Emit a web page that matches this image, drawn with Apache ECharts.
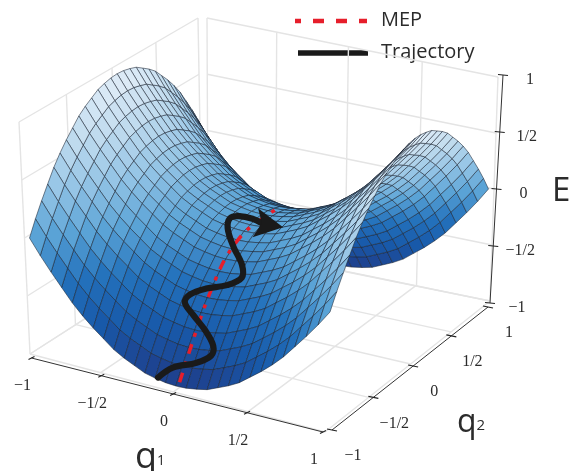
<!DOCTYPE html>
<html><head><meta charset="utf-8">
<style>html,body{margin:0;padding:0;background:#fff}#c{width:570px;height:471px}</style>
<script src="https://cdn.jsdelivr.net/npm/echarts@6/dist/echarts.min.js"></script></head>
<body><div id="c"></div>
<script>
// Mesh coordinates and surface height
const Q_GRID = [-1,-0.929,-0.857,-0.786,-0.714,-0.643,-0.571,-0.5,-0.429,-0.357,-0.286,-0.214,-0.143,-0.071,0,0.071,0.143,0.214,0.286,0.357,0.429,0.5,0.571,0.643,0.714,0.786,0.857,0.929,1];
const E_BY_Q1 = [0.95,0.82,0.70,0.59,0.48,0.39,0.31,0.24,0.17,0.12,0.08,0.04,0.02,0.005,0,0.005,0.02,0.04,0.08,0.12,0.17,0.24,0.31,0.39,0.48,0.59,0.70,0.82,0.95];
const E_BY_Q2 = [-0.95,-0.82,-0.70,-0.59,-0.48,-0.39,-0.31,-0.24,-0.17,-0.12,-0.08,-0.04,-0.02,-0.005,0,-0.005,-0.02,-0.04,-0.08,-0.12,-0.17,-0.24,-0.31,-0.39,-0.48,-0.59,-0.70,-0.82,-0.95];
// Paths on the surface
const MEP_Q1 = [0.03,0.03,0.02,0,0,0.01,0.02];
const MEP_Q2 = [-0.98,-0.84,-0.68,-0.47,-0.36,-0.19,0.15];
const MEP_E  = [-0.92,-0.66,-0.43,-0.22,-0.13,-0.04,-0.02];
const TRAJ_Q1 = [-0.11,-0.04,0.10,0.18,0.17,0.08,-0.03,-0.11,-0.10,-0.02,0.10,0.17,0.13,0.01,-0.10,-0.13,-0.10,-0.02,0.06,0.23];
const TRAJ_Q2 = [-0.99,-0.94,-0.91,-0.88,-0.84,-0.78,-0.73,-0.69,-0.65,-0.60,-0.57,-0.52,-0.45,-0.34,-0.22,-0.14,-0.09,-0.07,-0.10,-0.15];
const TRAJ_E  = [-0.92,-0.84,-0.77,-0.70,-0.64,-0.57,-0.50,-0.44,-0.39,-0.34,-0.29,-0.23,-0.17,-0.11,-0.04,0,0,-0.01,-0.01,0.03];
// Axes
const TICKS = [-1,-0.5,0,0.5,1];
const TICK_LABELS = ['\u22121','\u22121/2','0','1/2','1'];

// Box corners on the page for (q1,q2,E) signs
const CORNERS = {'---':[30,354],'+--':[325,432],'++-':[490,301],'-+-':[204,243],'--+':[19,122],'+-+':[335,192],'+++':[493,77],'-++':[203,18]};
const w1 = t => t - 0.056*t*(1-t), w2 = t => t + 0.076*t*(1-t);
function project(a,b,e){
  const u=w1((a+1)/2), v=w2((b+1)/2), w=(e+1)/2, o=[0,0];
  for(const s1 of '-+')for(const s2 of '-+')for(const s3 of '-+'){
    const k=(s1=='+'?u:1-u)*(s2=='+'?v:1-v)*(s3=='+'?w:1-w), c=CORNERS[s1+s2+s3];
    o[0]+=k*c[0]; o[1]+=k*c[1];
  }
  return o;
}
function surfacePoint(a,b,e){
  const p=project(a,b,e);
  p[0]+=5*((1-a)/2)*((1-b)/2)-3*((1+a)/2)*((1+b)/2);
  return p;
}
const STOPS=[[-1,[32,56,132]],[-0.6,[24,90,170]],[-0.3,[36,114,188]],[0,[90,163,214]],[0.3,[146,195,229]],[0.6,[190,218,238]],[1,[232,241,250]]];
function color(e){
  for(let i=1;i<STOPS.length;i++) if(e<=STOPS[i][0]){
    const a=STOPS[i-1],b=STOPS[i],t=Math.max(0,(e-a[0])/(b[0]-a[0]));
    return 'rgb('+a[1].map((c,k)=>Math.round(c+(b[1][k]-c)*t)).join(',')+')';
  }
  return 'rgb(232,241,250)';
}
// Surface cells, far to near
const cells=[];
for(let i=0;i<Q_GRID.length-1;i++)for(let j=0;j<Q_GRID.length-1;j++){
  const e=(E_BY_Q1[i]+E_BY_Q1[i+1])/2+(E_BY_Q2[j]+E_BY_Q2[j+1])/2;
  cells.push([i,j,e,0.45*Q_GRID[i]-0.78*Q_GRID[j]+0.32*e]);
}
cells.sort((p,r)=>p[3]-r[3]);
// Wall and floor lines
const wall=[];
function shifted(kind,a,b,e){
  const p=project(a,b,e),u=(a+1)/2,v=(b+1)/2,w=(e+1)/2;
  if(kind=='left') p[0]-=5*v*(0.4+0.6*w);
  if(kind=='back') p[0]+=4*(1-u)+5*u*w;
  return p;
}
for(const t of TICKS){
  wall.push(['floor',[t,-1,-1],[t,1,-1]],['floor',[-1,t,-1],[1,t,-1]]);
  wall.push(['left',[-1,t,-1],[-1,t,1]],['left',[-1,-1,t],[-1,1,t]]);
  wall.push(['back',[t,1,-1],[t,1,1]],['back',[-1,1,t],[1,1,t]]);
}
const q1Axis=(a)=>{const p=project(a,-1,-1),u=(a+1)/2;return [p[0]+1.5*(1-u)-2*u,p[1]+4*(1-u)];};
const q2Axis=(b)=>{const p=project(1,b,-1),v=(b+1)/2;return [p[0]+7*(1-v)-2*v,p[1]-2*(1-v)+6*v];};
const eAxis=(e)=>{const p=project(1,1,e),w=(e+1)/2;return [p[0]+10*w,p[1]+2*(1-w)-2*w];};
const AXES=[
 {f:q1Axis,tick:[3,-1.5],lab:[-9,28]},
 {f:q2Axis,tick:[5,1],lab:[21,26]},
 {f:eAxis,tick:[5,0.5],lab:[27,5]}];
const axisCurves=AXES.map(A=>[A.f(-1),A.f(1)]);
const tickItems=[];AXES.forEach((A,k)=>TICKS.forEach((t,n)=>tickItems.push([k,n])));
const seq=a=>a.map((_,i)=>i);
const base={type:'custom',coordinateSystem:'cartesian2d',clip:false,silent:true};
const chart=echarts.init(document.getElementById('c'),null,{renderer:'canvas'});
const TEXT='#2b2b2b';
chart.setOption({animation:false,
 grid:{left:0,right:0,top:0,bottom:0},
 xAxis:{type:'value',min:0,max:570,show:false},
 yAxis:{type:'value',min:0,max:471,inverse:true,show:false},
 graphic:[
  {type:'line',shape:{x1:295,y1:21,x2:367,y2:21},style:{stroke:'#e61e2b',lineWidth:4.5,lineDash:[11,12],lineDashOffset:5}},
  {type:'line',shape:{x1:298,y1:53,x2:368,y2:53},style:{stroke:'#1a1a1a',lineWidth:5.5}},
  {type:'text',x:381,y:20,style:{text:'MEP',font:'20px "Open Sans"',fill:TEXT,verticalAlign:'middle'}},
  {type:'text',x:381,y:52,style:{text:'Trajectory',font:'20px "Open Sans"',fill:TEXT,verticalAlign:'middle'}},
  {type:'text',x:552,y:192,style:{text:'E',font:'33px "Open Sans"',fill:TEXT,verticalAlign:'middle'}},
  {type:'text',x:135,y:458,style:{text:'{a|q}{b|1}',verticalAlign:'middle',rich:{a:{font:'36px "Open Sans"',fill:TEXT},b:{font:'14px "Open Sans"',fill:TEXT,verticalAlign:'middle',padding:[6,0,0,0]}}}},
  {type:'text',x:457,y:423,style:{text:'{a|q}{b|2}',verticalAlign:'middle',rich:{a:{font:'32px "Open Sans"',fill:TEXT},b:{font:'15px "Open Sans"',fill:TEXT,verticalAlign:'middle',padding:[6,0,0,0]}}}}
 ],
 series:[
 {...base,data:seq(wall),encode:{x:0,y:0},z:1,renderItem(p,api){
   const w=wall[api.value(0)],a=api.coord(shifted(w[0],...w[1])),b=api.coord(shifted(w[0],...w[2]));
   return {type:'line',shape:{x1:a[0],y1:a[1],x2:b[0],y2:b[1]},style:{stroke:'#e4e4e4',lineWidth:1.4}};
 }},
 {...base,data:seq(axisCurves),encode:{x:0,y:0},z:2,renderItem(p,api){
   const c=axisCurves[api.value(0)],a=api.coord(c[0]),b=api.coord(c[1]);
   return {type:'line',shape:{x1:a[0],y1:a[1],x2:b[0],y2:b[1]},style:{stroke:'#333',lineWidth:1}};
 }},
 {...base,data:tickItems,encode:{x:0,y:1},z:2,renderItem(p,api){
   const A=AXES[api.value(0)],n=api.value(1),c=api.coord(A.f(TICKS[n]));
   return {type:'group',children:[
     {type:'line',shape:{x1:c[0]-A.tick[0],y1:c[1]-A.tick[1],x2:c[0]+A.tick[0],y2:c[1]+A.tick[1]},style:{stroke:'#222',lineWidth:1.1}},
     {type:'text',style:{x:c[0]+A.lab[0],y:c[1]+A.lab[1],text:TICK_LABELS[n],font:'16px "Liberation Serif"',fill:TEXT,align:'center',verticalAlign:'middle'}}
   ]};
 }},
 {...base,data:cells,encode:{x:0,y:1},z:3,renderItem(p,api){
   const i=api.value(0),j=api.value(1),e=api.value(2);
   const pts=[[i,j],[i+1,j],[i+1,j+1],[i,j+1]].map(([a,b])=>api.coord(surfacePoint(Q_GRID[a],Q_GRID[b],E_BY_Q1[a]+E_BY_Q2[b])));
   return {type:'polygon',shape:{points:pts},style:{fill:color(e),stroke:'rgba(25,35,50,0.78)',lineWidth:0.7}};
 }},
 {...base,name:'MEP',data:[0],encode:{x:0,y:0},z:4,renderItem(p,api){
   const pts=MEP_Q1.map((_,i)=>api.coord(project(MEP_Q1[i],MEP_Q2[i],MEP_E[i])));
   return {type:'polyline',shape:{points:pts,smooth:0.3},style:{fill:null,stroke:'#e61e2b',lineWidth:3.5,lineDash:[10,8,4,8]}};
 }},
 {...base,name:'Trajectory',data:[0],encode:{x:0,y:0},z:5,renderItem(p,api){
   const pts=TRAJ_Q1.map((_,i)=>api.coord(project(TRAJ_Q1[i],TRAJ_Q2[i],TRAJ_E[i])));
   const tip=pts[pts.length-1],notch=pts[pts.length-2],line=pts.slice(0,-1);
   let dx=tip[0]-notch[0],dy=tip[1]-notch[1];const L=Math.hypot(dx,dy);dx/=L;dy/=L;
   const off=(al,no)=>[notch[0]+dx*al-dy*no,notch[1]+dy*al+dx*no];
   return {type:'group',children:[
     {type:'polyline',shape:{points:line,smooth:0.35},style:{fill:null,stroke:'#1a1a1a',lineWidth:6.2,lineCap:'round',lineJoin:'round'}},
     {type:'polygon',shape:{points:[tip,off(-6.5,15.5),notch,off(-6.5,-14)]},style:{fill:'#1a1a1a'}}
   ]};
 }}
 ]});
</script></body></html>
